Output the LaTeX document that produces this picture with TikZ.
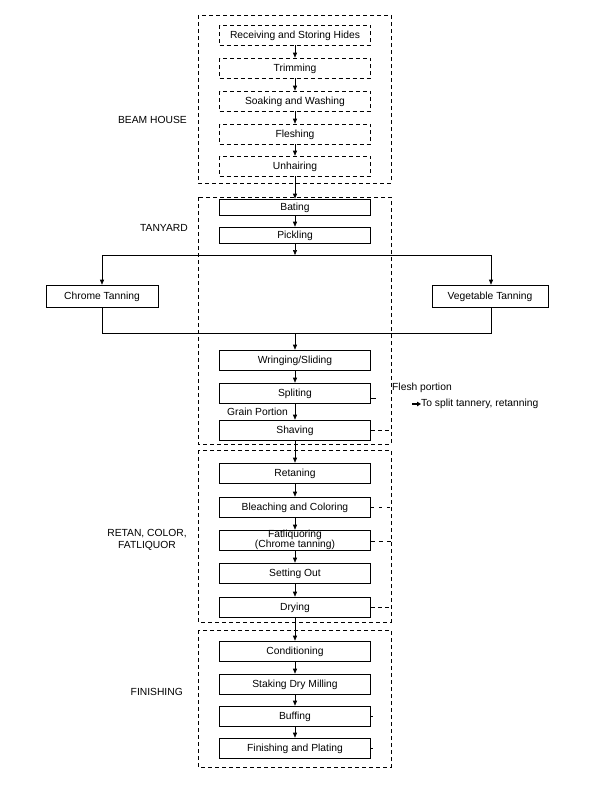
\documentclass[tikz,border=0pt]{standalone}
\usepackage{fontspec}
\setmainfont{Liberation Sans}
\usetikzlibrary{arrows.meta}
\begin{document}
\begin{tikzpicture}[x=1pt,y=-1pt,
  every node/.style={font=\fontsize{10.3}{10.5}\selectfont},
  grp/.style={draw, dash pattern=on 4pt off 3pt, line width=0.6pt},
  stepbox/.style={draw, line width=0.6pt, minimum width=151pt, minimum height=20pt, inner sep=0pt,
    text height=7.4pt, text depth=0.3pt,
    append after command={[draw=gray!55, line width=1.3pt] (\tikzlastnode.south west) -- (\tikzlastnode.south east) -- (\tikzlastnode.north east)}},
  dstep/.style={draw, dash pattern=on 4pt off 3pt, line width=0.6pt, minimum width=151pt, minimum height=20pt, inner sep=0pt,
    text height=7.4pt, text depth=0.3pt},
  sidebox/.style={stepbox, minimum width=112pt, minimum height=22pt},
  arr/.style={-{Triangle[length=5pt,width=4pt]}, line width=0.6pt},
  ln/.style={line width=0.6pt},
  lbl/.style={inner sep=0pt}
]
\useasboundingbox (0,0) rectangle (597,806);
% group frames
\draw[grp] (198,15) rectangle (391,183);
\draw[grp] (198,197) rectangle (391,444);
\draw[grp] (198,450) rectangle (391,622);
\draw[grp] (198,630) rectangle (391,767);
% group labels
\node[lbl, anchor=east] (lbh) at (187,120) {BEAM HOUSE};
\node[lbl, anchor=east] (lty) at (188,228) {TANYARD};
\node[lbl, align=center] (lrc) at (147,540) {RETAN, COLOR,\\[2pt]FATLIQUOR};
\node[lbl, anchor=east] (lfi) at (183,692) {FINISHING};
% beam house
\node[dstep] (b1) at (295,35) {Receiving and Storing Hides};
\node[dstep] (b2) at (295,68) {Trimming};
\node[dstep] (b3) at (295,101) {Soaking and Washing};
\node[dstep] (b4) at (295,134) {Fleshing};
\node[dstep] (b5) at (295,166) {Unhairing};
% tanyard
\node[stepbox, minimum height=16pt] (t1) at (295,207) {Bating};
\node[stepbox, minimum height=16pt] (t2) at (295,235) {Pickling};
\node[sidebox] (ct) at (102,296) {Chrome Tanning};
\node[sidebox, minimum width=116pt] (vt) at (490,296) {Vegetable Tanning};
\node[stepbox] (t3) at (295,360) {Wringing/Sliding};
\node[stepbox] (t4) at (295,393) {Spliting};
\node[stepbox] (t5) at (295,430) {Shaving};
% retan
\node[stepbox] (r1) at (295,473) {Retaning};
\node[stepbox] (r2) at (295,507) {Bleaching and Coloring};
\node[stepbox, text height=, text depth=, align=center] (r3) at (295,540) {Fatliquoring\\[-0.3pt](Chrome tanning)};
\node[stepbox] (r4) at (295,573) {Setting Out};
\node[stepbox] (r5) at (295,607) {Drying};
% finishing
\node[stepbox] (f1) at (295,651) {Conditioning};
\node[stepbox] (f2) at (295,684) {Staking Dry Milling};
\node[stepbox] (f3) at (295,716) {Buffing};
\node[stepbox] (f4) at (295,748) {Finishing and Plating};
% arrows
\draw[arr] (b1) -- (b2);
\draw[arr] (b2) -- (b3);
\draw[arr] (b3) -- (b4);
\draw[arr] (b4) -- (b5);
\draw[arr] (b5) -- (t1);
\draw[arr] (t1) -- (t2);
\coordinate (sp) at (295,255);
\coordinate (spl) at (102,255);
\coordinate (spr) at (491,255);
\coordinate (jn) at (295,333);
\coordinate (jnl) at (102,333);
\coordinate (jnr) at (491,333);
\draw[arr] (t2) -- (sp);
\draw[ln] (spl) -- (spr);
\draw[arr] (spl) -- (ct.north -| spl);
\draw[arr] (spr) -- (vt.north -| spr);
\draw[ln] (ct.south -| jnl) -- (jnl) -- (jnr) -- (vt.south -| jnr);
\draw[arr] (jn) -- (t3);
\draw[arr] (t3) -- (t4);
\draw[arr] (t4) -- (t5);
\draw[arr] (t5) -- (r1);
\draw[arr] (r1) -- (r2);
\draw[arr] (r2) -- (r3);
\draw[arr] (r3) -- (r4);
\draw[arr] (r4) -- (r5);
\draw[arr] (r5) -- (f1);
\draw[arr] (f1) -- (f2);
\draw[arr] (f2) -- (f3);
\draw[arr] (f3) -- (f4);
% split labels
\node[lbl, anchor=east] (gp) at (288,412) {Grain Portion};
\node[lbl, anchor=west] (fp) at (392,388) {Flesh portion};
\node[lbl, anchor=west] (ts) at (421,404) {To split tannery, retanning};
\coordinate (fa) at (412,404);
\draw[-{Triangle[length=4pt,width=4.5pt]}, line width=1.4pt] (fa) -- (ts.west);
% side stubs
\coordinate (s4) at (376,398);
\draw[ln] (t4.east |- s4) -- (s4);
\coordinate (s5) at (391,430);
\draw[ln, dash pattern=on 4pt off 3pt] (t5.east) -- (s5);
\coordinate (s2) at (391,507);
\draw[ln, dash pattern=on 3pt off 5pt] (r2.east) -- (s2);
\coordinate (s3) at (391,541);
\draw[ln, dash pattern=on 4pt off 4pt] (r3.east |- s3) -- (s3);
\coordinate (s6) at (391,607);
\draw[ln, dash pattern=on 4pt off 3pt] (r5.east) -- (s6);
\coordinate (s7) at (373,716);
\draw[ln] (f3.east) -- (s7);
\coordinate (s8) at (373,748);
\draw[ln] (f4.east) -- (s8);
\end{tikzpicture}
\end{document}
